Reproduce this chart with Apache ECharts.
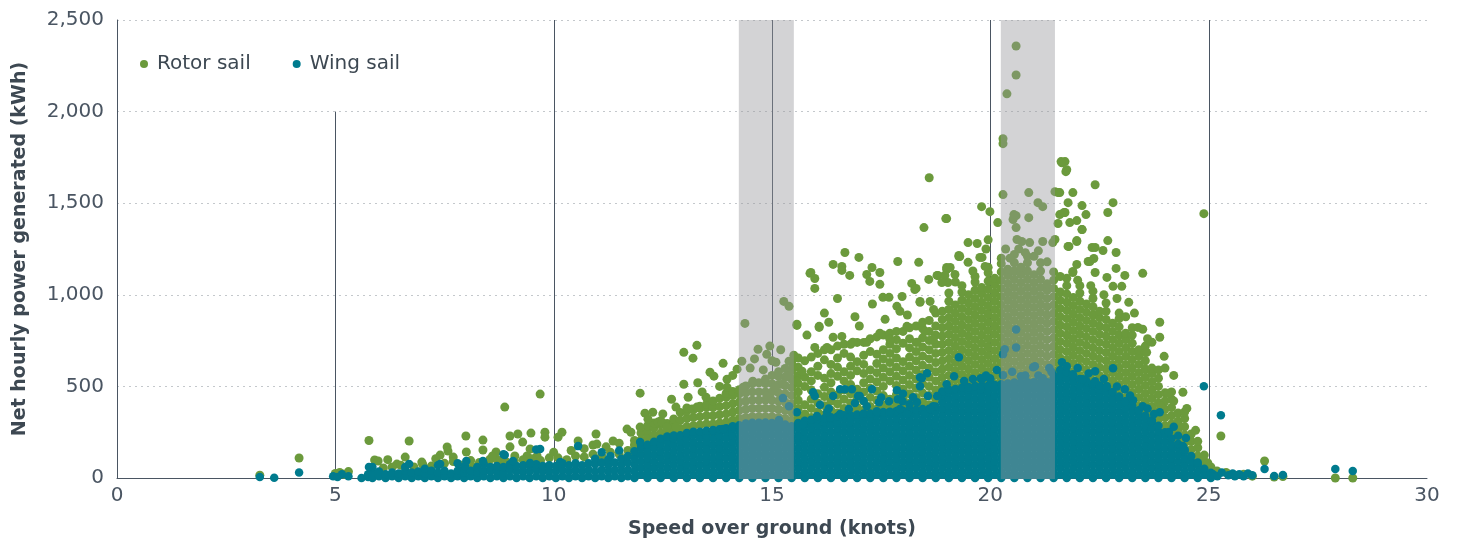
<!DOCTYPE html>
<html><head><meta charset="utf-8">
<script src="https://cdn.jsdelivr.net/npm/echarts@6/dist/echarts.min.js"></script>
<style>html,body{margin:0;padding:0;background:#fff}#c{width:1463px;height:544px}</style>
</head><body><div id="c"></div>
<script>
const xTicks = [0, 5, 10, 15, 20, 25, 30];
const yTicks = [0, 500, 1000, 1500, 2000, 2500];
const seriesNames = ['Rotor sail', 'Wing sail'];
// reference lines: [speed, top value]
const refLines = [[5, 2000], [10, 2500], [15, 2500], [20, 2500], [25, 2500]];
// shaded speed bands: [from, to]
const shadedBands = [[14.24, 15.5], [20.24, 21.48]];

// Rotor sail: dense cloud, one speed column each
const rotorColumns = [
[11.85,[140,180,205]],[12.0,[165,205,245]],[12.15,[180,220,260,285]],[12.3,[190,235,275,300]],
[12.45,[205,245,290,312]],[12.6,[215,255,298]],[12.75,[220,265,305,322]],[12.9,[230,270,315,358]],
[13.05,[235,280,325,365,382]],[13.2,[240,285,330,372]],[13.35,[245,290,335,380,392]],[13.5,[250,295,340,385,402]],
[13.65,[250,295,340,385,420]],[13.8,[255,300,345,390,435]],[13.95,[260,305,350,395,440,462]],[14.1,[270,315,360,405,450,472]],
[14.25,[280,325,370,415,460,482]],[14.4,[285,330,375,420,465,502]],[14.55,[290,335,380,425,470,515]],[14.7,[290,335,380,425,470,520]],
[14.85,[290,335,380,425,470,515,540]],[15.0,[290,335,380,425,470,515,560]],[15.15,[285,330,375,420,465,510,555,580]],
[15.3,[280,325,370,415,460,505,550,598]],[15.45,[270,315,360,405,450,495,540,585,635]],[15.6,[290,335,380,425,470,515,560,605,655]],
[15.75,[300,350,400,500,550,640]],[15.9,[305,330,380,430,480,530,580,660]],[16.05,[310,360,410,460,560,610,680]],
[16.2,[315,345,395,445,495,545,645,700]],[16.35,[320,370,420,470,520,570,620,700]],[16.5,[325,355,405,455,555,605,655,720]],
[16.65,[330,380,430,480,530,580,680,730]],[16.8,[330,360,410,460,510,560,610,660,730]],[16.95,[335,385,435,485,585,635,740]],
[17.1,[340,370,420,470,520,570,620,670,740]],[17.25,[340,390,440,490,540,590,690,760]],[17.4,[345,375,425,475,525,575,625,675,770]],
[17.55,[350,400,450,500,550,600,650,700,780]],[17.7,[350,380,430,530,580,630,680,730,790]],[17.85,[355,405,455,505,555,605,655,705,755,800]],
[18.0,[355,385,435,485,535,585,635,735,800]],[18.15,[360,410,460,510,560,610,660,710,760,820]],[18.3,[360,390,440,490,540,590,640,690,740,830]],
[18.45,[365,415,465,515,565,615,665,715,765,815,850]],[18.6,[370,400,450,500,550,600,650,700,750,800,860]],
[18.75,[380,430,480,530,580,630,680,730,780,830,900]],
[18.9,[460,505,550,595,640,685,730,775,820,865,910]],[19.05,[470,515,560,605,650,695,740,785,830,875,920,965,1010]],
[19.2,[475,495,540,585,630,675,720,765,810,855,900,945]],[19.35,[480,520,565,610,655,700,745,790,835,880,925,970,1015,1050]],
[19.5,[485,505,550,595,640,685,730,775,820,865,910,955,1000]],[19.65,[490,530,575,620,665,710,755,800,845,890,935,980,1025,1070,1100]],
[19.8,[490,510,555,600,645,690,735,780,825,870,915,960,1005,1040]],[19.95,[495,535,580,625,670,715,760,805,850,895,940,985,1030,1075,1120,1150]],
[20.1,[495,515,560,605,650,695,740,785,830,875,920,965,1010,1055,1090]],[20.25,[500,540,585,630,675,720,765,810,855,900,945,990,1035,1080,1125,1170,1200]],
[20.4,[505,520,565,610,655,700,745,790,835,880,925,970,1015,1060,1105,1140]],[20.55,[510,545,590,635,680,725,770,815,860,905,950,995,1040,1085,1130,1175,1220]],
[20.7,[510,525,570,615,660,705,750,795,840,885,930,975,1020,1065,1110,1150]],[20.85,[510,545,590,635,680,725,770,815,860,905,950,995,1040,1085,1130,1175,1210]],
[21.0,[510,525,570,615,660,705,750,795,840,885,930,975,1020,1065,1110]],[21.15,[510,545,590,635,680,725,770,815,860,905,950,995,1040,1085,1130,1175]],
[21.3,[515,530,575,620,665,710,755,800,845,890,935,980,1025,1060]],[21.45,[550,585,630,675,720,765,810,855,900,945,990,1035,1080,1125]],
[21.6,[580,610,655,700,745,790,835,880,925,970,1015]],[21.75,[570,600,645,690,735,780,825,870,915,960,1005,1050,1090]],
[21.9,[550,580,625,670,715,760,805,850,895,940,985]],[22.05,[535,560,605,650,695,740,785,830,875,920,965,1010,1050]],
[22.2,[520,545,590,635,680,725,770,815,860,905,950]],[22.35,[505,530,575,620,665,710,755,800,845,890,935,980,1020]],
[22.5,[495,515,560,605,650,695,740,785,830,875,910]],[22.65,[485,505,550,595,640,685,730,775,820,865,910,955]],
[22.8,[460,485,530,575,620,665,710,755,800,845]],[22.95,[435,465,510,555,600,645,690,735,780,825,870,900]],
[23.1,[410,440,485,530,575,620,665,710,755,790]],[23.25,[385,420,465,510,555,600,645,690,735,780,820]],
[23.4,[360,395,440,485,530,575,620,665,700]],[23.55,[330,370,415,460,505,550,595,640,685,720]],
[23.7,[305,345,390,435,480,525,570,600]],[23.85,[275,320,365,410,455,500,545,590]],[24.0,[240,285,330,375,420,465]],
[24.15,[205,250,295,340,385,430,470]],[24.3,[175,220,265,310,355]],[24.45,[145,190,235,280,325,360]],[24.6,[110,155,200,240]],
[24.75,[75,120,165,200]],[24.9,[45,90,125]],[25.05,[20,60]]
];
// Rotor sail: individual points [speed, kWh]
const rotorPoints = [
[3.27,15],[4.17,109],[5.0,25],[5.1,30],[5.2,20],[5.3,35],[5.77,205],[5.9,98],[5.98,93],[6.41,76],[6.6,114],[6.69,202],[6.98,87],
[7.4,125],[7.56,169],[7.58,147],[7.7,114],[7.99,229],[8.0,142],[8.15,60],[8.38,207],[8.38,153],[8.54,103],[8.68,142],[8.77,93],
[8.88,387],[9.0,229],[9.11,120],[9.18,240],[9.29,196],[9.39,120],[9.46,158],[9.48,245],[9.62,120],[9.69,458],[9.8,250],[9.8,223],
[10.1,223],[10.19,250],[10.56,202],[10.9,180],[10.97,240],[10.99,185],[11.36,202],[11.68,267],[11.77,250],[11.98,463],[11.98,278],
[6.1,55],[6.3,60],[6.5,70],[6.8,60],[7.0,75],[7.2,65],[7.5,80],[7.7,90],[7.9,70],[8.1,95],[8.3,85],[8.5,80],[8.7,100],[8.9,90],
[9.1,95],[9.3,100],[9.5,105],[9.7,95],[9.9,110],[10.1,110],[10.3,100],[10.5,120],[10.7,115],[10.9,130],[11.1,120],[11.3,140],
[11.5,130],[11.7,150],[10.4,150],[10.7,160],[11.2,170],[11.5,190],[10.0,140],[9.0,170],[8.6,120],[7.3,105],[6.2,100],[11.0,100],[11.6,100],
[12.09,354],[12.16,321],[12.27,359],[12.39,305],[12.48,305],[12.59,278],[12.8,387],[12.8,278],[12.98,686],[12.98,512],[13.08,441],
[13.19,654],[13.28,724],[13.17,376],[13.28,387],[13.49,441],[13.58,577],[13.67,556],[13.88,626],[13.97,539],[14.2,594],[14.31,637],
[14.38,844],[14.68,703],[14.88,675],[15.09,632],[15.27,964],[15.39,937],[15.57,839],[15.39,637],[15.48,610],[15.34,556],[15.23,512],
[15.57,528],[15.07,496],[14.88,447],[14.56,528],[14.34,496],[13.97,496],[12.7,430],[13.4,470],[13.8,500],[14.1,560],[14.5,600],
[14.8,590],[15.0,640],[15.2,700],[14.95,720],[14.6,650],[13.3,520],[12.5,350],
[15.57,833],[15.87,1117],[15.98,1089],[15.98,1035],[16.08,828],[16.4,1166],[16.6,1155],[16.6,1133],[16.67,1231],[16.78,1106],
[16.99,1204],[17.17,1111],[17.29,1149],[17.47,1122],[17.47,1057],[17.88,1182],[18.36,1177],[18.2,1062],[18.27,1029],[18.39,959],
[18.59,1084],[18.62,964],[18.8,1106],[19.0,1138],[19.19,1111],[19.28,1215],[19.49,1177],[19.81,1204],[17.54,986],[17.68,986],
[17.86,937],[15.5,670],[15.69,583],[15.98,713],[16.26,713],[16.85,741],[17.17,741],[17.47,790],[17.7,757],[18.32,741],[18.69,757],
[16.6,773],[16.4,768],[17.59,866],[18.09,828],[18.5,801],[18.39,964],[17.93,910],[16.08,822],[15.89,1122],[17.24,1073],[18.3,1035],
[18.78,1106],[19.0,1149],[19.49,1285],[18.6,1639],[18.48,1367],[19.0,1416],[19.8,1481],[19.99,1454],[19.28,1209],[18.98,1416],
[19.88,1155],[17.98,991],[18.96,1106],[19.03,1067],[18.89,1067],[19.08,1149],[19.3,1209],[19.76,1204],[16.2,900],[16.9,880],
[17.3,950],[16.5,980],[18.7,920],[19.2,1070],[19.6,1130],[19.9,1250],[19.95,1300],[19.7,1280],[17.0,830],[18.1,890],[15.8,780],[16.3,850],
[20.29,1547],[20.17,1394],[20.88,1558],[21.09,1503],[21.2,1481],[21.48,1563],[21.59,1558],[21.64,1721],[21.75,1683],[21.71,1727],
[21.89,1558],[21.78,1503],[21.69,1449],[22.1,1487],[22.19,1438],[22.4,1601],[20.59,1432],[20.52,1411],[20.59,1367],[20.88,1421],
[21.59,1438],[21.55,1389],[21.48,1302],[21.43,1285],[21.98,1405],[22.1,1356],[21.8,1264],[21.98,1291],[22.33,1258],[22.37,1198],
[22.24,1182],[21.98,1166],[21.89,1127],[20.54,1438],[20.61,1302],[20.72,1291],[20.9,1285],[21.2,1291],[20.29,1825],[20.29,1852],
[20.38,2097],[20.59,2200],[20.59,2358],[21.62,1727],[21.73,1672],[21.55,1558],[20.35,1250],[20.8,1230],[21.0,1210],[20.45,1200],
[21.3,1180],[20.65,1250],[21.1,1240],
[22.81,1503],[22.69,1449],[21.71,1449],[21.82,1394],[22.1,1356],[21.98,1296],[21.78,1264],[22.4,1258],[22.58,1242],[22.69,1296],
[22.28,1182],[22.88,1231],[22.88,1144],[23.08,1106],[23.49,1117],[22.67,1095],[23.01,1046],[22.81,1046],[22.4,1122],[21.89,1122],
[23.17,959],[23.88,850],[23.7,741],[23.88,768],[23.98,664],[23.49,812],[23.38,822],[23.58,686],[24.07,463],[24.41,468],[23.9,392],
[24.3,289],[24.59,125],[24.89,1443],[24.98,82],[25.28,229],[25.19,38],[23.3,900],[23.1,880],[22.6,1000],[22.9,980],[23.6,760],
[24.2,560],[24.0,600],[24.5,380],[24.7,260],[24.2,420],[22.3,1050],[21.6,1100],[22.0,1080],
[25.05,40],[25.2,20],[25.4,30],[25.6,15],[25.8,20],[26.0,10],[26.28,93],[26.5,5],[26.7,8],[27.9,0],[28.3,0]
];

// Wing sail: dense cloud, one speed column each
const wingColumns = [
[5.6,[0]],[5.75,[5,20]],[5.85,[0,30,60]],[6.0,[10,35]],[6.15,[0,20]],[6.3,[10,30]],[6.45,[0,25]],[6.6,[10,40,60]],[6.75,[0,30]],
[6.9,[10,35]],[7.05,[0,25,50]],[7.2,[10,40]],[7.35,[0,30,70]],[7.5,[10,40]],[7.65,[0,25]],[7.8,[10,40,80]],[7.95,[0,30,55]],
[8.1,[10,40]],[8.25,[0,30,60]],[8.4,[10,40,75]],[8.55,[0,35,60]],[8.7,[10,40,65]],[8.85,[0,30,60,130]],[9.0,[10,45,75]],
[9.15,[0,35,65]],[9.3,[10,40,70]],[9.45,[0,35,65]],[9.6,[10,45,75,155]],[9.75,[0,35,65]],[9.9,[10,40,70]],[10.05,[0,35,65]],
[10.2,[10,45,80]],[10.35,[0,35,70]],[10.5,[10,45,80]],[10.65,[0,35,70]],[10.8,[10,45,80]],[10.95,[0,35,75,105]],[11.1,[10,45,85]],
[11.25,[0,35,70,100]],[11.4,[10,45,85]],[11.55,[0,35,70,105]],[11.7,[10,45,85,120]],
[11.85,[0,35,72,108,146]],[12.0,[18,54,90,127,162,180]],[12.15,[0,36,73,108,144,181]],[12.3,[18,55,90,126,163,198]],
[12.45,[0,36,72,109,144,180,214]],[12.6,[18,54,91,126,162,198,226]],[12.75,[0,36,72,108,145,180,216,232]],
[12.9,[18,54,90,126,163,198,234]],[13.05,[0,37,72,108,144,181,216,246]],[13.2,[18,54,90,127,162,198,235,252]],
[13.35,[0,36,72,108,144,180,217,252]],[13.5,[18,55,90,126,162,199,234,258]],[13.65,[0,36,73,108,145,180,216,252,262]],
[13.8,[18,54,90,126,162,198,234,266]],[13.95,[0,36,72,109,144,180,217,252,272]],[14.1,[18,54,91,126,162,198,234,270,282]],
[14.25,[0,36,72,108,144,181,216,252,288]],[14.4,[18,54,90,126,163,198,234,270,297]],[14.55,[0,37,72,108,144,180,216,253,288,302]],
[14.7,[18,54,90,127,162,198,234,270,302]],[14.85,[0,36,72,108,145,180,216,252,288,303]],[15.0,[18,55,90,126,162,198,235,270,300]],
[15.15,[0,36,72,108,144,181,216,252,288]],[15.3,[18,54,90,126,162,198,234,270,292]],[15.45,[0,36,73,108,144,180,216,252,282]],
[15.6,[18,54,90,126,162,199,234,270,300]],[15.75,[0,36,72,108,144,180,217,252,288,312]],[15.9,[18,54,90,127,162,198,234,270,306,318]],
[16.05,[0,36,72,108,145,180,216,252,288,322]],[16.2,[18,55,90,126,162,198,234,271,306,326]],[16.35,[0,36,72,108,144,180,216,252,289,324,332]],
[16.5,[18,54,91,126,162,198,234,270,306,336]],[16.65,[0,36,72,108,144,181,216,252,288,324,342]],[16.8,[18,54,90,126,162,198,235,270,306,341]],
[16.95,[0,37,72,108,144,180,216,252,288,324,346]],[17.1,[18,54,90,126,163,198,234,270,306,342,352]],[17.25,[0,36,72,109,144,180,216,252,288,324,352]],
[17.4,[18,54,90,126,162,198,234,270,307,342,357]],[17.55,[0,36,72,108,144,180,216,253,288,324,360]],[17.7,[18,55,90,126,162,198,234,270,306,342,362]],
[17.85,[0,36,72,108,145,180,216,252,288,324,360,366]],[18.0,[18,54,90,126,162,199,234,270,306,342,367]],[18.15,[0,36,73,108,144,180,216,252,288,325,360,372]],
[18.3,[18,54,90,127,162,198,234,270,306,342,372]],[18.45,[0,36,72,108,144,180,217,252,288,324,360,377]],[18.6,[18,54,90,126,162,198,234,271,306,342,378]],
[18.75,[0,36,72,108,144,180,216,252,288,324,361,390]],[18.9,[18,54,90,126,162,198,234,270,306,342,378,414,450,472]],
[19.05,[0,36,72,108,144,180,216,252,288,324,360,396,432,468,482]],[19.2,[18,54,90,126,162,198,234,270,306,342,378,414,450,486]],
[19.35,[0,36,72,108,144,180,216,252,288,324,360,396,432,468,492]],[19.5,[18,54,90,126,162,198,234,270,306,342,378,414,450,486,497]],
[19.65,[0,36,72,108,144,180,216,252,288,324,360,396,432,468,502]],[19.8,[18,54,90,126,162,198,234,270,306,342,378,414,450,486,503]],
[19.95,[0,36,72,108,144,180,216,252,288,324,360,396,432,468,504]],[20.1,[18,54,90,126,162,198,234,270,306,342,378,414,450,486,507]],
[20.25,[0,36,72,108,144,180,216,252,288,324,360,396,432,468,504,512]],[20.4,[18,54,90,126,162,198,234,270,306,342,378,414,450,486,516]],
[20.55,[0,36,72,108,144,180,216,252,288,324,360,396,432,468,504,521]],[20.7,[18,54,90,126,162,198,234,270,306,342,378,414,450,486,520]],
[20.85,[0,36,72,108,144,180,216,252,288,324,360,396,432,468,504,522]],[21.0,[18,54,90,126,162,198,234,270,306,342,378,414,450,486,522]],
[21.15,[0,36,72,108,144,180,216,252,288,324,360,396,432,468,504,520]],[21.3,[18,54,90,126,162,198,234,270,306,342,378,414,450,486,522]],
[21.45,[0,36,72,108,144,180,216,252,288,324,360,396,432,468,504,540,560]],[21.6,[18,54,90,126,162,198,234,270,306,342,378,414,450,486,522,558,590]],
[21.75,[0,36,72,108,144,180,216,252,288,324,360,396,432,468,504,540,576]],[21.9,[18,54,90,126,162,198,234,270,306,342,378,414,450,486,522,558]],
[22.05,[0,36,72,108,144,180,216,252,288,324,360,396,432,468,504,540]],[22.2,[18,54,90,126,162,198,234,270,306,342,378,414,450,486,522,530]],
[22.35,[0,36,72,108,144,180,216,252,288,324,360,396,432,468,504,515]],[22.5,[18,54,90,126,162,198,234,270,306,342,378,414,450,486,505]],
[22.65,[0,36,72,108,144,180,216,252,288,324,360,396,432,468,495]],[22.8,[18,54,90,126,162,198,234,270,306,342,378,414,450,470]],
[22.95,[0,36,72,108,144,180,216,252,288,324,360,396,432,445]],[23.1,[18,54,90,126,162,198,234,270,306,342,378,414,420]],
[23.25,[0,36,72,108,144,180,216,252,288,324,360,395]],[23.4,[18,54,90,126,162,198,234,270,306,342,370]],
[23.55,[0,36,72,108,144,180,216,252,288,324,340]],[23.7,[18,54,90,126,162,198,234,270,306,315]],[23.85,[0,36,72,108,144,180,216,252,285]],
[24.0,[18,54,90,126,162,198,234,250]],[24.15,[0,36,72,108,144,180,215]],[24.3,[18,54,90,126,162,185]],[24.45,[0,36,72,108,144,155]],
[24.6,[18,54,90,120]],[24.75,[0,36,72,85]],[24.9,[18,50]],[25.05,[0,28]]
];
// Wing sail: individual points [speed, kWh]
const wingPoints = [
[3.27,5],[3.6,2],[4.17,30],[4.95,10],[5.05,5],[5.15,20],[5.3,10],[5.77,60],[6.69,76],[7.4,76],[7.97,65],[8.0,93],[8.38,93],
[8.88,125],[9.07,93],[9.46,82],[9.69,158],[10.15,87],[10.56,174],[11.1,140],[11.5,150],[11.3,120],[11.98,196],
[13.88,267],[15.25,436],[15.39,392],[15.16,316],[15.57,359],[15.71,294],[15.94,468],[15.98,447],[16.4,447],[16.56,485],[16.67,485],
[16.83,485],[16.97,447],[17.01,447],[17.29,485],[17.86,479],[17.88,430],[17.45,414],[17.68,419],[17.99,419],[18.15,403],[18.32,414],
[18.23,441],[18.39,501],[18.39,550],[18.43,545],[18.55,572],[18.57,447],[18.69,392],[18.78,447],[19.0,512],[19.17,556],[19.28,659],
[19.78,545],[19.99,545],[20.29,675],[20.29,561],[16.03,338],[16.26,359],[16.56,349],[16.76,376],[17.17,392],[17.4,365],[17.7,359],
[17.93,376],[18.09,349],[18.5,349],[18.62,376],[16.1,400],[16.9,410],[17.5,440],[18.0,460],[16.3,380],[17.1,420],
[20.59,811],[20.59,713],[20.33,703],[21.02,610],[21.2,545],[21.64,632],[21.75,610],[21.89,566],[22.4,583],[22.81,599],[22.12,539],
[22.4,528],[22.67,501],[23.08,485],[23.27,425],[23.49,392],[23.88,359],[24.09,251],[24.48,218],[24.41,174],[24.89,501],[25.28,343],
[20.98,605],[19.81,539],[20.0,539],[20.8,560],[21.4,580],
[19.4,530],[19.9,560],[20.5,580],[20.7,555],[21.1,560],[20.15,590],[19.6,540],[21.35,600],[22.0,600],[22.25,570],[22.6,540],
[22.9,500],[23.2,450],[23.6,380],[23.75,350],[24.2,280],[24.3,230],
[25.1,20],[25.2,10],[25.3,30],[25.45,15],[25.55,25],[25.6,10],[25.7,20],[25.8,10],[25.9,25],[26.0,15],
[26.28,49],[26.5,11],[26.7,16],[27.9,49],[28.3,38]
];

function buildPoints(columns, points) {
  const out = [];
  columns.forEach(function (c) { c[1].forEach(function (v) { out.push([c[0], v]); }); });
  points.forEach(function (p) { out.push(p); });
  return out;
}

const FONT = 'DejaVu Sans';
const GREEN = '#6b9a3c', TEAL = '#007b8e', INK = '#4a5562', TITLE = '#3d4852';
const chart = echarts.init(document.getElementById('c'), null, { renderer: 'canvas' });
chart.setOption({
  animation: false,
  backgroundColor: '#ffffff',
  textStyle: { fontFamily: FONT },
  grid: { left: 117, right: 36, top: 20, bottom: 65, containLabel: false },
  legend: {
    data: seriesNames, left: 135, top: 49, icon: 'circle', itemWidth: 16, itemHeight: 8, itemGap: 42,
    textStyle: { fontSize: 20, color: TITLE, fontFamily: FONT }
  },
  xAxis: {
    type: 'value', min: xTicks[0], max: xTicks[xTicks.length - 1], interval: 5,
    axisLine: { show: true, lineStyle: { color: INK, width: 1 } },
    axisTick: { show: false }, splitLine: { show: false },
    axisLabel: { fontSize: 20, color: INK, margin: 8, fontFamily: FONT },
    name: 'Speed over ground (knots)', nameLocation: 'middle', nameGap: 42,
    nameTextStyle: { fontSize: 19, fontWeight: 'bold', color: TITLE, fontFamily: FONT }
  },
  yAxis: {
    type: 'value', min: yTicks[0], max: yTicks[yTicks.length - 1], interval: 500,
    axisLine: { show: true, lineStyle: { color: INK, width: 1 } },
    axisTick: { show: false },
    splitLine: { show: true, lineStyle: { color: '#c4c8cc', type: [2, 4], width: 1 } },
    axisLabel: { fontSize: 20, color: INK, margin: 13, fontFamily: FONT,
      formatter: function (v) { return v.toLocaleString('en-US'); } },
    name: 'Net hourly power generated (kWh)', nameLocation: 'middle', nameGap: 87, nameRotate: 90,
    nameTextStyle: { fontSize: 19, fontWeight: 'bold', color: TITLE, fontFamily: FONT }
  },
  series: [
    {
      type: 'custom', name: 'refLines', silent: true, z: 1, data: refLines,
      renderItem: function (params, api) {
        const p0 = api.coord([api.value(0), 0]);
        const p1 = api.coord([api.value(0), api.value(1)]);
        const x = Math.round(p0[0]) + 0.5;
        return { type: 'line', shape: { x1: x, y1: p0[1], x2: x, y2: p1[1] }, style: { stroke: INK, lineWidth: 1 } };
      }
    },
    {
      type: 'scatter', name: seriesNames[0], z: 2, large: false, symbol: 'circle', symbolSize: 9,
      itemStyle: { color: GREEN, opacity: 1 }, emphasis: { disabled: true },
      data: buildPoints(rotorColumns, rotorPoints)
    },
    {
      type: 'scatter', name: seriesNames[1], z: 3, large: false, symbol: 'circle', symbolSize: 8.5,
      itemStyle: { color: TEAL, opacity: 1 }, emphasis: { disabled: true },
      data: buildPoints(wingColumns, wingPoints)
    },
    {
      type: 'custom', name: 'bands', silent: true, z: 5, data: shadedBands,
      renderItem: function (params, api) {
        const a = api.coord([api.value(0), yTicks[yTicks.length - 1]]);
        const b = api.coord([api.value(1), 0]);
        return { type: 'rect', shape: { x: a[0], y: a[1], width: b[0] - a[0], height: b[1] - a[1] + 1 },
          style: { fill: 'rgba(150,150,156,0.42)' } };
      }
    }
  ]
});
</script>
</body></html>
